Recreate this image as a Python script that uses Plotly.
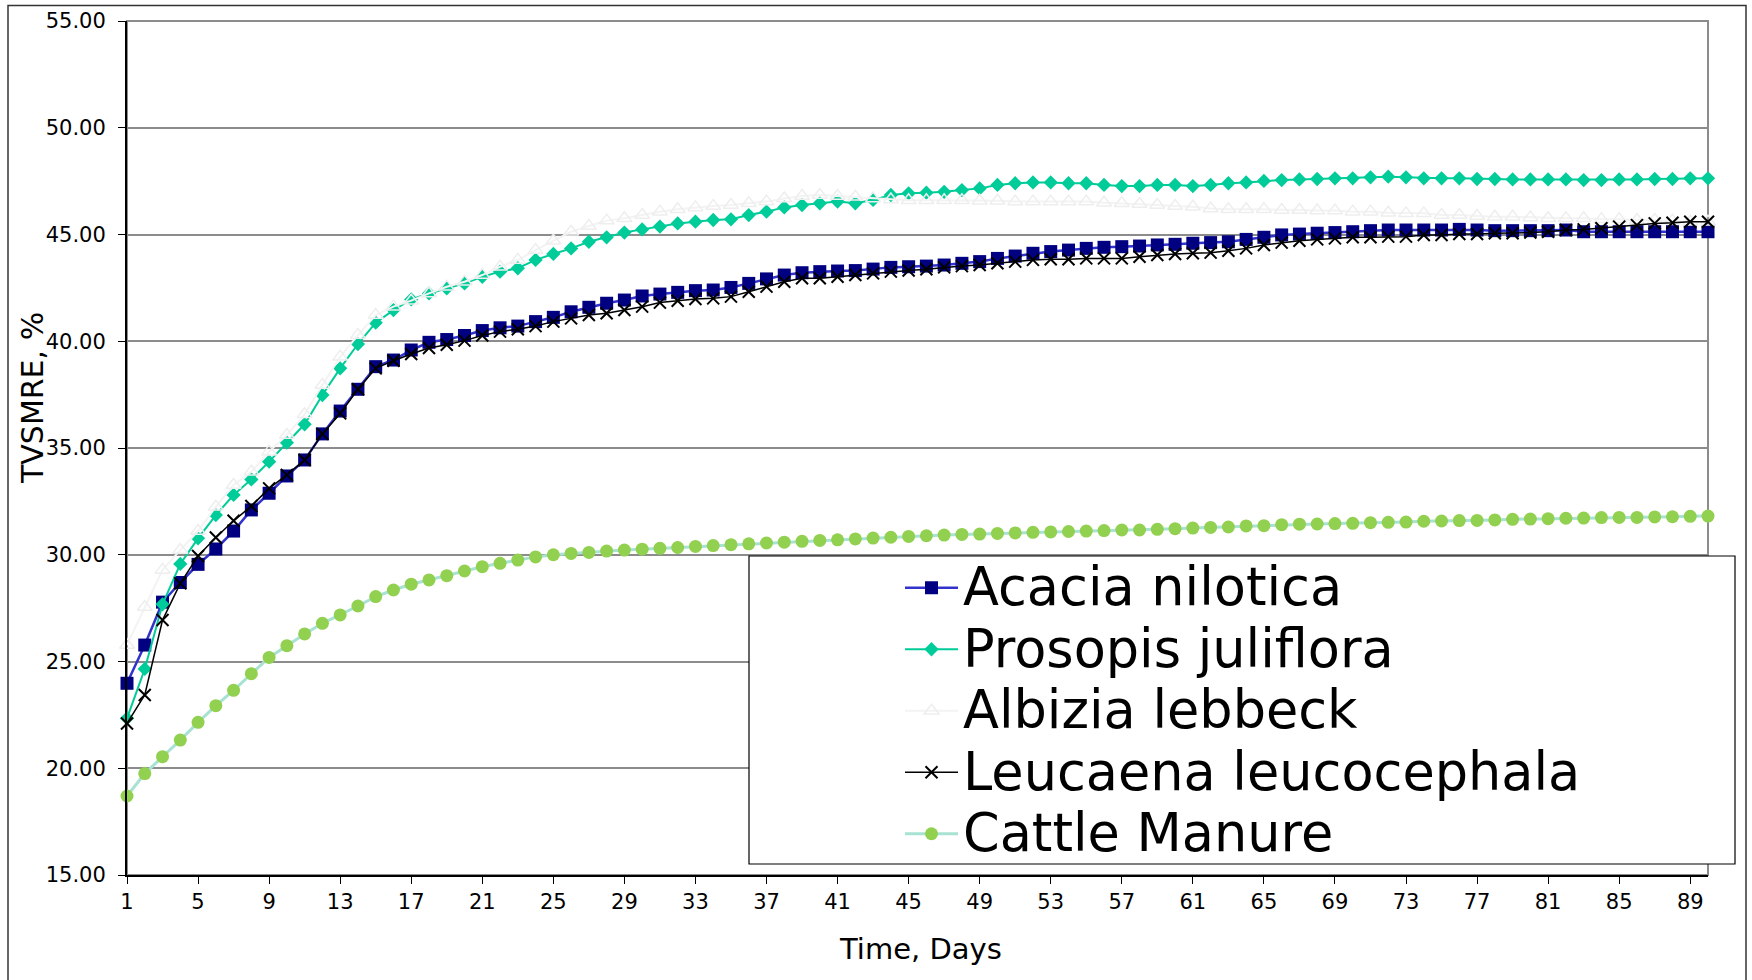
import plotly.graph_objects as go

# --- data -------------------------------------------------------------
days = list(range(1, 91))

acacia = [
    23.98, 25.77, 27.78, 28.70, 29.55, 30.27, 31.11, 32.10, 32.88, 33.69,
    34.44, 35.66, 36.73, 37.75, 38.81, 39.12, 39.59, 39.95, 40.08, 40.27,
    40.50, 40.63, 40.71, 40.92, 41.12, 41.38, 41.59, 41.78, 41.93, 42.12,
    42.21, 42.29, 42.37, 42.40, 42.52, 42.71, 42.92, 43.10, 43.21, 43.26,
    43.29, 43.31, 43.38, 43.46, 43.49, 43.52, 43.57, 43.65, 43.73, 43.88,
    43.99, 44.12, 44.20, 44.27, 44.35, 44.40, 44.43, 44.46, 44.51, 44.54,
    44.59, 44.62, 44.66, 44.77, 44.87, 44.98, 45.02, 45.06, 45.09, 45.13,
    45.18, 45.21, 45.21, 45.21, 45.21, 45.24, 45.21, 45.18, 45.18, 45.18,
    45.18, 45.21, 45.13, 45.13, 45.13, 45.13, 45.13, 45.13, 45.13, 45.13,
]

prosopis = [
    22.34, 24.65, 27.68, 29.57, 30.77, 31.86, 32.80, 33.53, 34.36, 35.25,
    36.11, 37.48, 38.73, 39.87, 40.87, 41.46, 41.96, 42.24, 42.48, 42.71,
    43.02, 43.26, 43.42, 43.81, 44.09, 44.35, 44.66, 44.87, 45.09, 45.24,
    45.37, 45.52, 45.60, 45.68, 45.71, 45.91, 46.07, 46.27, 46.38, 46.46,
    46.54, 46.46, 46.62, 46.85, 46.93, 46.96, 47.00, 47.08, 47.16, 47.32,
    47.40, 47.44, 47.44, 47.40, 47.40, 47.32, 47.27, 47.27, 47.32, 47.32,
    47.27, 47.32, 47.40, 47.44, 47.51, 47.55, 47.58, 47.60, 47.63, 47.63,
    47.68, 47.71, 47.68, 47.63, 47.63, 47.63, 47.60, 47.60, 47.58, 47.58,
    47.58, 47.58, 47.55, 47.55, 47.58, 47.58, 47.60, 47.60, 47.63, 47.63,
]

albizia = [
    25.77, 27.55, 29.29, 30.22, 31.11, 32.25, 33.27, 33.89, 34.83, 35.61,
    36.58, 37.95, 39.27, 40.29, 41.23, 41.62, 41.90, 42.24, 42.55, 42.79,
    43.10, 43.49, 43.81, 44.27, 44.71, 45.13, 45.40, 45.65, 45.76, 45.91,
    46.07, 46.18, 46.27, 46.33, 46.38, 46.46, 46.54, 46.69, 46.80, 46.85,
    46.80, 46.77, 46.69, 46.64, 46.60, 46.60, 46.60, 46.60, 46.58, 46.58,
    46.54, 46.54, 46.54, 46.54, 46.54, 46.49, 46.46, 46.43, 46.38, 46.33,
    46.30, 46.22, 46.18, 46.18, 46.18, 46.15, 46.15, 46.12, 46.12, 46.07,
    46.07, 46.02, 45.99, 45.99, 45.91, 45.91, 45.87, 45.83, 45.83, 45.80,
    45.76, 45.76, 45.76, 45.71, 45.71, 45.68, 45.68, 45.65, 45.60, 45.60,
]

leucaena = [
    22.10, 23.43, 26.94, 28.66, 29.94, 30.81, 31.59, 32.28, 33.11, 33.74,
    34.44, 35.66, 36.62, 37.75, 38.73, 39.09, 39.40, 39.68, 39.84, 40.03,
    40.27, 40.45, 40.56, 40.71, 40.92, 41.07, 41.23, 41.31, 41.46, 41.62,
    41.81, 41.90, 41.98, 42.01, 42.09, 42.32, 42.56, 42.79, 42.95, 42.95,
    43.02, 43.10, 43.18, 43.26, 43.31, 43.37, 43.46, 43.52, 43.57, 43.65,
    43.73, 43.81, 43.84, 43.84, 43.88, 43.88, 43.88, 43.96, 44.04, 44.09,
    44.12, 44.15, 44.24, 44.35, 44.51, 44.62, 44.71, 44.77, 44.82, 44.87,
    44.87, 44.90, 44.90, 44.98, 44.98, 45.02, 45.02, 45.06, 45.06, 45.09,
    45.13, 45.21, 45.24, 45.29, 45.37, 45.44, 45.52, 45.55, 45.60, 45.60,
]

cattle = [
    18.70, 19.75, 20.54, 21.32, 22.15, 22.93, 23.65, 24.43, 25.19, 25.74,
    26.29, 26.79, 27.18, 27.60, 28.04, 28.35, 28.62, 28.82, 29.02, 29.24,
    29.44, 29.60, 29.75, 29.90, 30.00, 30.06, 30.11, 30.17, 30.22, 30.26,
    30.30, 30.34, 30.39, 30.43, 30.47, 30.51, 30.55, 30.59, 30.63, 30.67,
    30.70, 30.74, 30.78, 30.82, 30.86, 30.89, 30.92, 30.95, 30.97, 31.00,
    31.02, 31.05, 31.07, 31.09, 31.11, 31.13, 31.16, 31.16, 31.19, 31.22,
    31.25, 31.28, 31.30, 31.35, 31.36, 31.41, 31.43, 31.44, 31.46, 31.47,
    31.50, 31.52, 31.53, 31.57, 31.58, 31.60, 31.61, 31.63, 31.66, 31.67,
    31.69, 31.71, 31.72, 31.74, 31.75, 31.75, 31.77, 31.78, 31.80, 31.81,
]

series_names = ["Acacia nilotica", "Prosopis juliflora", "Albizia lebbeck",
                "Leucaena leucocephala", "Cattle Manure"]
tick_days = days[::4]
y_ticks = [15, 20, 25, 30, 35, 40, 45, 50, 55]

# --- page geometry ----------------------------------------------------
W, H = 1752, 980
ML, MR, MT, MB = 127, 44, 21, 105
PW, PH = W - ML - MR, H - MT - MB


def px_x(p):
    """pixel column -> paper x"""
    return (p - ML) / PW


def px_y(p):
    """pixel row (from top) -> paper y"""
    return (H - MB - p) / PH


FONT = "DejaVu Sans"


def legend_label(name):
    return f'<span style="font-size:52.5px">{name}</span>'


fig = go.Figure()

styles = [
    dict(data=acacia,
         line=dict(color="#3333CC", width=2.5),
         marker=dict(symbol="square", size=13, color="#000080",
                     line=dict(width=0))),
    dict(data=prosopis,
         line=dict(color="#00CC99", width=2),
         marker=dict(symbol="diamond", size=11, color="#00CC99",
                     line=dict(width=0))),
    dict(data=albizia,
         line=dict(color="#F3F3F3", width=2),
         marker=dict(symbol="triangle-up-open", size=13, color="#EEEEEE",
                     line=dict(width=1.5, color="#EEEEEE"))),
    dict(data=leucaena,
         line=dict(color="#000000", width=1.5),
         marker=dict(symbol="x-thin", size=12, color="#000000",
                     line=dict(width=2, color="#000000"))),
    dict(data=cattle,
         line=dict(color="#A8E2D2", width=3),
         marker=dict(symbol="circle", size=13, color="#92D050",
                     line=dict(width=0))),
]

for name, st in zip(series_names, styles):
    fig.add_trace(go.Scatter(
        x=days, y=st["data"], name=legend_label(name),
        mode="lines+markers", line=st["line"], marker=st["marker"],
        cliponaxis=False, hovertemplate=name + ": %{y:.2f}<extra></extra>",
    ))

shapes = [
    # outer chart frame
    dict(type="rect", xref="paper", yref="paper",
         x0=px_x(8), x1=px_x(1746), y0=px_y(1010), y1=px_y(5.5),
         line=dict(color="#333333", width=1.5), layer="below"),
    # plot-area frame (grey top / right)
    dict(type="rect", xref="paper", yref="paper", x0=0, x1=1, y0=0, y1=1,
         line=dict(color="#8C8C8C", width=2), layer="below"),
    # legend panel
    dict(type="rect", xref="paper", yref="paper",
         x0=px_x(749), x1=px_x(1735), y0=px_y(864), y1=px_y(556),
         line=dict(color="#000000", width=1.2), fillcolor="#FFFFFF",
         layer="above"),
]

annotations = [
    dict(text="TVSMRE, %", xref="paper", yref="paper",
         x=px_x(32.5), y=px_y(398.5), xanchor="center", yanchor="middle",
         textangle=-90, showarrow=False,
         font=dict(family=FONT, size=30, color="#000000")),
    dict(text="Time, Days", xref="paper", yref="paper",
         x=px_x(920), y=px_y(949), xanchor="center", yanchor="middle",
         showarrow=False, font=dict(family=FONT, size=29, color="#000000")),
]

fig.update_layout(
    width=W, height=H,
    margin=dict(l=ML, r=MR, t=MT, b=MB, autoexpand=False),
    paper_bgcolor="#FFFFFF", plot_bgcolor="#FFFFFF",
    font=dict(family=FONT, color="#000000"),
    showlegend=True,
    legend=dict(
        x=px_x(900), y=px_y(552), xanchor="left", yanchor="top",
        bgcolor="rgba(0,0,0,0)", borderwidth=0, itemwidth=53,
        font=dict(family=FONT, size=45, color="#000000"),
        tracegroupgap=0,
    ),
    xaxis=dict(
        range=[1, 90], tickmode="array", tickvals=tick_days,
        ticktext=[str(d) for d in tick_days],
        showgrid=False, zeroline=False,
        showline=True, linecolor="#000000", linewidth=2,
        ticks="outside", ticklen=7, tickwidth=1.2, tickcolor="#000000",
        tickfont=dict(family=FONT, size=21, color="#000000"),
    ),
    yaxis=dict(
        range=[15, 55], tickmode="array", tickvals=y_ticks,
        ticktext=[f"{v:.2f}" for v in y_ticks],
        showgrid=True, gridcolor="#8C8C8C", gridwidth=1.5, zeroline=False,
        showline=True, linecolor="#000000", linewidth=2,
        ticks="outside", ticklen=7, tickwidth=1.2, tickcolor="#000000",
        ticklabelstandoff=8,
        tickfont=dict(family=FONT, size=21, color="#000000"),
    ),
    shapes=shapes,
    annotations=annotations,
)

fig.write_html("out.html")
